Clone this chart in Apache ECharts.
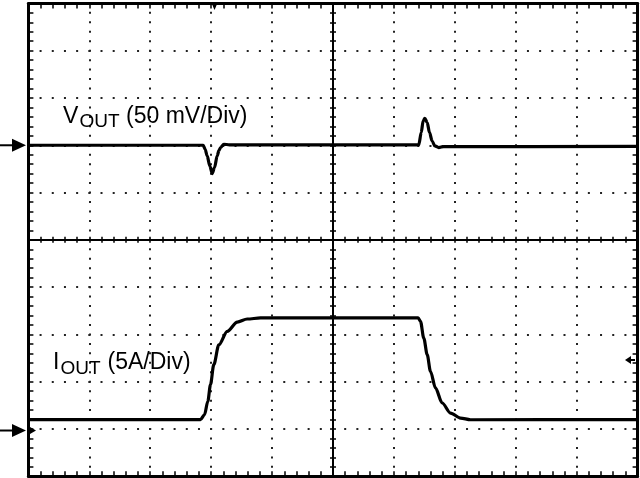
<!DOCTYPE html>
<html><head><meta charset="utf-8">
<script src="https://cdn.jsdelivr.net/npm/echarts@6/dist/echarts.min.js"></script>
<style>html,body{margin:0;padding:0;background:#fff}#c{width:640px;height:478px}</style>
</head><body><div id="c"></div>
<script>
// Time in screen divisions from centre (10 div across)
const voutTime = [-5, -2.13, -2.10, -2.065, -2.022, -1.983, -1.945, -1.901, -1.872, -1.846, -1.792, -1.70, 1.408, 1.448, 1.480, 1.507, 1.546, 1.584, 1.628, 1.671, 1.736, 1.818, 5];
// VOUT deviation, mV (50 mV/Div)
const voutMv   = [0, 0, -4, -11.3, -21.9, -29.9, -23.6, -11.3, -5.5, -2.4, 1.1, 0.5, 0.5, 13.4, 25.7, 28.5, 24, 13.4, 4.5, -0.7, -2.4, -1.4, -1.2];
const ioutTime = [-5, -2.175, -2.109, -2.055, -2.011, -1.957, -1.874, -1.736, -1.572, -1.408, -1.190, 1.398, 1.436, 1.490, 1.546, 1.600, 1.682, 1.792, 1.928, 2.093, 2.257, 5];
// IOUT, A (5 A/Div)
const ioutA    = [1.0, 1.0, 1.51, 2.93, 4.69, 6.80, 8.91, 10.33, 11.31, 11.63, 11.74, 11.74, 11.39, 9.62, 7.86, 6.10, 4.34, 2.75, 1.69, 1.16, 0.98, 1.0];
const voutRefDiv = 2, voutScale = 50;   // mV per div
const ioutRefDiv = -4, ioutScale = 5;   // A per div
const divTicks = [-5, 5, 1];            // min, max, interval (divisions)

const chart = echarts.init(document.getElementById('c'), null, {renderer: 'canvas'});
const black = '#000';
const gridW = 640 - 28.4 - 2.4, gridH = 478 - 3.4 - 1.7;

function axis(dim, position, kind) {
  const frame = kind === 'frame';
  const a = {
    type: 'value', min: divTicks[0], max: divTicks[1], interval: divTicks[2],
    position: position,
    axisLabel: {show: false},
    axisLine: {show: true, onZero: !frame, lineStyle: {color: black, width: frame ? 3 : 2}},
    axisTick: {show: true, inside: true, length: frame ? 5 : 3, lineStyle: {color: black, width: 1.5}},
    minorTick: {show: true, splitNumber: 5, length: frame ? 5 : 3, lineStyle: {color: black, width: 1.5}},
    splitLine: {show: false}
  };
  if (!frame) a.axisLine.onZeroAxisIndex = 0;
  if (kind === 'frame' && (position === 'bottom' || position === 'left')) {
    const period = dim === 'x' ? gridH / 50 : gridW / 50;
    a.splitLine = {show: true, lineStyle: {color: '#222', width: 2, type: [2, period - 2], dashOffset: 1}};
  }
  return a;
}

const option = {
  animation: false,
  backgroundColor: '#fff',
  grid: {left: 28.4, right: 2.4, top: 3.4, bottom: 1.7, containLabel: false},
  xAxis: [axis('x', 'bottom', 'frame'), axis('x', 'top', 'frame'), axis('x', 'bottom', 'center'), axis('x', 'top', 'center')],
  yAxis: [axis('y', 'left', 'frame'), axis('y', 'right', 'frame'), axis('y', 'left', 'center'), axis('y', 'right', 'center')],
  series: [
    {type: 'line', name: 'VOUT', xAxisIndex: 0, yAxisIndex: 0, showSymbol: false, smooth: 0.3, smoothMonotone: 'x',
     lineStyle: {color: black, width: 3.2}, z: 5,
     data: voutTime.map((t, i) => [t, voutRefDiv + voutMv[i] / voutScale])},
    {type: 'line', name: 'IOUT', xAxisIndex: 0, yAxisIndex: 0, showSymbol: false, smooth: 0.3, smoothMonotone: 'x',
     lineStyle: {color: black, width: 3.2}, z: 5,
     data: ioutTime.map((t, i) => [t, ioutRefDiv + ioutA[i] / ioutScale])}
  ]
};
chart.setOption(option);

const vRefY = chart.convertToPixel({xAxisIndex: 0, yAxisIndex: 0}, [0, voutRefDiv])[1];
const iRefY = chart.convertToPixel({xAxisIndex: 0, yAxisIndex: 0}, [0, ioutRefDiv])[1] + 1.5;
const font = (s) => s + 'px "Liberation Sans", Arial, sans-serif';
function txt(t, x, y, size) {
  return {type: 'text', z: 10, style: {text: t, x: x, y: y, font: font(size), fill: black, align: 'left', verticalAlign: 'middle'}};
}
function arrow(y) {
  return [
    {type: 'line', z: 10, shape: {x1: 0, y1: y, x2: 14, y2: y}, style: {stroke: black, lineWidth: 2}},
    {type: 'polygon', z: 10, shape: {points: [[12, y - 6.5], [26, y], [12, y + 6.5]]}, style: {fill: black}}
  ];
}
chart.setOption({
  graphic: [
    txt('V', 63, 117, 23), txt('OUT', 79.5, 122, 19), txt('(50 mV/Div)', 126, 117, 23),
    txt('I', 53, 363, 23), txt('OUT', 60.5, 368.5, 19), txt('(5A/Div)', 107.5, 363, 23),
    ...arrow(vRefY), ...arrow(iRefY),
    {type: 'polygon', z: 10, shape: {points: [[30, iRefY - 3.5], [36, iRefY], [30, iRefY + 3.5]]}, style: {fill: black}},
    {type: 'polygon', z: 10, shape: {points: [[625, 360], [631, 356], [631, 364]]}, style: {fill: black}},
    {type: 'line', z: 10, shape: {x1: 627, y1: 360, x2: 635, y2: 360}, style: {stroke: black, lineWidth: 2}},
    {type: 'polygon', z: 10, shape: {points: [[211.5, 3], [217.5, 3], [214.5, 10]]}, style: {fill: black}}
  ]
});
</script></body></html>
